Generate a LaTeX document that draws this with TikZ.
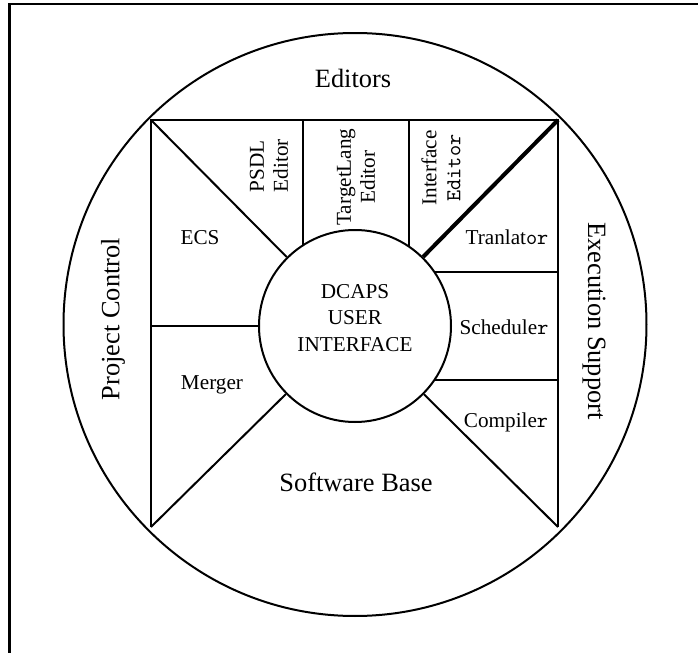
\documentclass[tikz,border=0pt]{standalone}
\usepackage{fontspec}
\setmainfont{Liberation Serif}
\usetikzlibrary{positioning}
\tikzset{%
	module/.style={
		inner sep=0pt,
		align=center,
		font=\fontsize{10.6}{12}\selectfont
	},
	area/.style={
		inner sep=0pt,
		font=\fontsize{13.2}{15}\selectfont
	},
	hub/.style={
		circle,
		draw,
		inner sep=0pt
	},
}
\begin{document}
\begin{tikzpicture}[x=0.5pt, y=-0.5pt, line width=1pt]
			\useasboundingbox (0,0) rectangle (698,653);
			% frame
			\draw[line width=1.2pt] (9.5,4) rectangle (720,700);
			
			% Draw the outer circle
			\node[hub, minimum size=291.5pt] (outer) at (355,324.5) {};
			\node[area] (editors) at (353,78) {Editors};
			\node[area] (base) at (356,482) {Software Base};
			\node[area, rotate=90] (control) at (113,319) {Project Control};
			\node[area, rotate=-90] (execution) at (594,321) {Execution Support};
			
			% Draw the inner circle
			\node[hub, minimum size=96pt] (ui) at (355,326) {};
			\node[module, font=\fontsize{10.6}{13.2}\selectfont] (uitext) at (355,318) {DCAPS\\USER\\INTERFACE};
			
			% corners of the square
			\coordinate (tl) at (151,120);
			\coordinate (tr) at (558,120);
			\coordinate (bl) at (151,527);
			\coordinate (br) at (558,527);
			\draw (bl) -- (tl) -- (tr) -- (br);
			\draw (tl) -- (ui);
			\draw[line width=2pt] (tr) -- (ui);
			\draw (bl) -- (ui);
			\draw (br) -- (ui);
			
			% editors
			\coordinate (ed1) at (303,120);
			\coordinate (ed2) at (409,120);
			\draw (ed1) -- (ed1 |- ui.123);
			\draw (ed2) -- (ed2 |- ui.56);
			\node[module, rotate=90, anchor=west, align=left] (psdl) at (269,193) {PSDL\\Editor};
			\node[module, rotate=90] (target) at (356,177) {TargetLang\\Editor};
			\node[module, rotate=90] (iface) at (441,168) {Interface\\\texttt{Editor}};
			
			% execution support
			\coordinate (ex1) at (558,272);
			\coordinate (ex2) at (558,380);
			\draw (ex1) -- (ex1 -| ui.34);
			\draw (ex2) -- (ex2 -| ui.-34);
			\node[module] (trans) at (507,237) {Tranlat\texttt{or}};
			\node[module] (sched) at (504,327) {Schedule\texttt{r}};
			\node[module] (comp) at (506,422) {Compile\texttt{r}};
			
			% project control
			\coordinate (pc1) at (151,326);
			\draw (pc1) -- (ui.west);
			\node[module] (ecs) at (200,238) {ECS};
			\node[module] (merger) at (212,385) {Merger};
			
		\end{tikzpicture}
\end{document}
